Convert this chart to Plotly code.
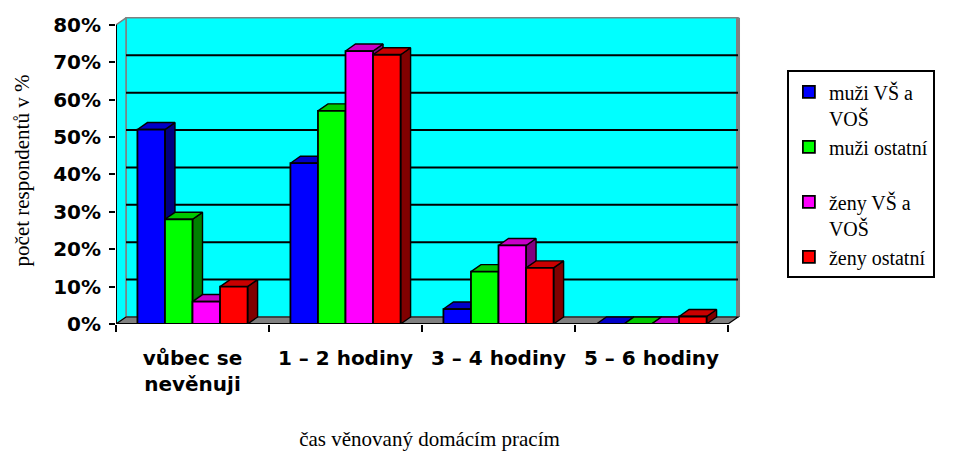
import plotly.graph_objects as go

# ---------------- data ----------------
categories = ["vůbec se<br>nevěnuji", "1 – 2 hodiny", "3 – 4 hodiny", "5 – 6 hodiny"]
series_names = ["muži VŠ a<br>VOŠ", "muži ostatní<br> ", "ženy VŠ a<br>VOŠ", "ženy ostatní"]
muzi_vs = [52, 43, 4, 0]
muzi_ostatni = [28, 57, 14, 0]
zeny_vs = [6, 73, 21, 0]
zeny_ostatni = [10, 72, 15, 2]
y_tick_values = [0, 10, 20, 30, 40, 50, 60, 70, 80]
y_tick_labels = ["0%", "10%", "20%", "30%", "40%", "50%", "60%", "70%", "80%"]

series_values = [muzi_vs, muzi_ostatni, zeny_vs, zeny_ostatni]

# ---------------- style ----------------
front_colors = ["#0000FF", "#00FF00", "#FF00FF", "#FF0000"]
top_colors = ["#0000C8", "#00C800", "#C800C8", "#C80000"]
side_colors = ["#000080", "#008000", "#800080", "#800000"]

BAR_W = 0.18      # bar width in category units
DX = 0.0654       # 3D depth, x (category units)
DY = 1.87         # 3D depth, y (percent units)
X_RANGE = [-0.5, 3.598]
Y_RANGE = [0, 82.1]
idx = list(range(len(categories)))
n_series = len(series_values)

fig = go.Figure()

# 3D side and top faces (drawn on base axes, left to right)
for s, vals in enumerate(series_values):
    sx, sy, tx, ty = [], [], [], []
    for c, v in zip(idx, vals):
        xc = c + (s - (n_series - 1) / 2) * BAR_W
        xl, xr = xc - BAR_W / 2, xc + BAR_W / 2
        sx += [xr, xr + DX, xr + DX, xr, xr, None]
        sy += [0, DY, v + DY, v, 0, None]
        tx += [xl, xr, xr + DX, xl + DX, xl, None]
        ty += [v, v, v + DY, v + DY, v, None]
    fig.add_trace(go.Scatter(x=sx, y=sy, mode="lines", fill="toself",
                             fillcolor=side_colors[s],
                             line=dict(color="black", width=1.4),
                             hoverinfo="skip", showlegend=False))
    fig.add_trace(go.Scatter(x=tx, y=ty, mode="lines", fill="toself",
                             fillcolor=top_colors[s],
                             line=dict(color="black", width=1.4),
                             hoverinfo="skip", showlegend=False))

# front faces (bars on overlay axes, drawn on top)
for s, vals in enumerate(series_values):
    xs = [c + (s - (n_series - 1) / 2) * BAR_W for c in idx]
    fig.add_trace(go.Bar(x=xs, y=vals, width=BAR_W, name=series_names[s],
                         marker=dict(color=front_colors[s],
                                     line=dict(color="black", width=1.8)),
                         xaxis="x2", yaxis="y2"))

# walls, floor, gridlines
x0, x1 = X_RANGE[0], X_RANGE[0] + len(categories)
shapes = []
shapes.append(dict(type="path", xref="x", yref="y", layer="below",
                   path=f"M{x0+DX},{DY} L{x1+DX},{DY} L{x1+DX},{80+DY} L{x0+DX},{80+DY} Z",
                   fillcolor="#00FFFF", line=dict(color="#808080", width=1.5)))
shapes.append(dict(type="path", xref="x", yref="y", layer="below",
                   path=f"M{x0},0 L{x0+DX},{DY} L{x0+DX},{80+DY} L{x0},80 Z",
                   fillcolor="#00FFFF", line=dict(color="#808080", width=1.5)))
shapes.append(dict(type="line", xref="x", yref="y", layer="below",
                   x0=x1 + DX, x1=x1 + DX, y0=DY, y1=80 + DY,
                   line=dict(color="#808080", width=4)))
for v in y_tick_values[1:-1]:
    shapes.append(dict(type="line", xref="x", yref="y", layer="below",
                       x0=x0 + DX, x1=x1 + DX, y0=v + DY, y1=v + DY,
                       line=dict(color="black", width=2)))
shapes.append(dict(type="path", xref="x", yref="y", layer="below",
                   path=f"M{x0},0 L{x1},0 L{x1+DX},{DY} L{x0+DX},{DY} Z",
                   fillcolor="#808080", line=dict(color="black", width=1.2)))
shapes.append(dict(type="line", xref="x", yref="y", layer="above",
                   x0=x0, x1=x0, y0=0, y1=80,
                   line=dict(color="black", width=2)))
shapes.append(dict(type="line", xref="x", yref="y", layer="above",
                   x0=x0, x1=x1, y0=0, y1=0,
                   line=dict(color="black", width=2)))

bold_font = dict(family="DejaVu Sans", size=20, color="black", weight="bold")
serif = "Liberation Serif, Times New Roman, serif"

fig.update_layout(
    width=946, height=443,
    margin=dict(l=108, r=211, t=9, b=127),
    paper_bgcolor="white", plot_bgcolor="white",
    barmode="overlay",
    shapes=shapes,
    showlegend=True,
    legend=dict(x=1.07, y=0.826, xanchor="left", yanchor="top",
                bgcolor="white", bordercolor="black", borderwidth=2,
                font=dict(family=serif, size=20, color="black"),
                valign="top", traceorder="normal"),
    xaxis=dict(range=X_RANGE, tickvals=idx, ticktext=categories,
               ticks="", showgrid=False, zeroline=False, showline=False,
               tickangle=0, tickfont=bold_font, ticklabelstandoff=20,
               automargin=False,
               title=dict(text="čas věnovaný domácím pracím",
                          font=dict(family=serif, size=21, color="black"),
                          standoff=36)),
    yaxis=dict(range=Y_RANGE, tickvals=y_tick_values, ticktext=y_tick_labels,
               ticks="outside", ticklen=6, tickwidth=2, tickcolor="black",
               showgrid=False, zeroline=False, showline=False,
               tickfont=bold_font, ticklabelstandoff=4, automargin=False,
               title=dict(text="počet respondentů v %",
                          font=dict(family=serif, size=21, color="black"),
                          standoff=17)),
    xaxis2=dict(overlaying="x", anchor="y2", side="bottom", range=X_RANGE,
                tickvals=[c - 0.5 for c in idx] + [idx[-1] + 0.5],
                ticks="outside", ticklen=7, tickwidth=2, tickcolor="black",
                showticklabels=False, showgrid=False, zeroline=False,
                showline=False, automargin=False),
    yaxis2=dict(overlaying="y", anchor="x2", range=Y_RANGE,
                showticklabels=False, ticks="", showgrid=False,
                zeroline=False, showline=False, automargin=False),
)

fig.write_html("out.html")
